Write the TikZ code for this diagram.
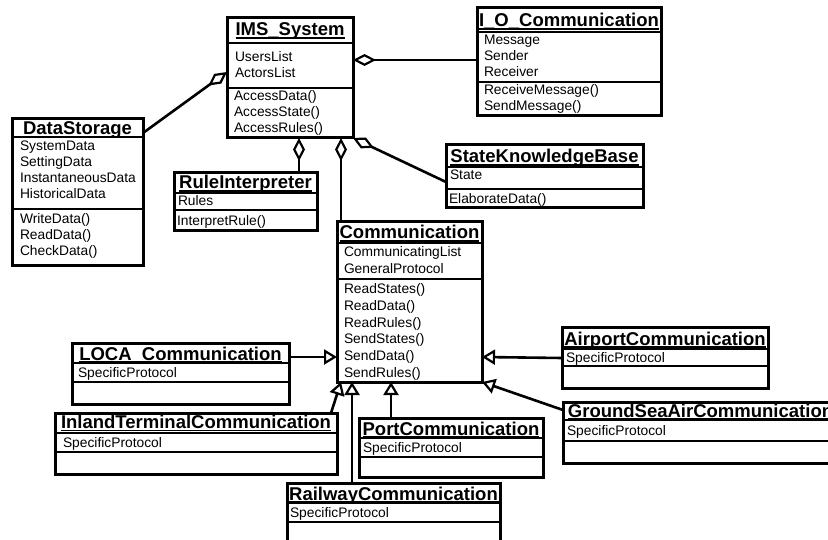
\documentclass[tikz,border=0pt]{standalone}
\usepackage{fontspec}
\setmainfont{Liberation Sans}
\usetikzlibrary{arrows.meta,calc}

\newcommand\clsTitleFont{\fontsize{18.5bp}{20bp}\selectfont\bfseries}
\newcommand\clsBodyFont{\fontsize{13.8bp}{16bp}\selectfont}

\tikzset{
  box/.style={rectangle, draw=black, line width=3bp, fill=white,
    inner sep=0pt, outer sep=0pt, anchor=north west},
  ttl/.style={font=\clsTitleFont, inner sep=0pt, outer sep=0pt, anchor=base},
  txt/.style={font=\clsBodyFont, inner sep=0pt, outer sep=0pt, anchor=base west},
  sepline/.style={line width=2.2bp},
  uline/.style={line width=1.3bp},
  conn/.style={line width=2.6bp},
  agg/.style={conn, {Diamond[fill=white, length=23bp, width=12bp, line width=2.2bp]}-},
  gen/.style={conn, -{Triangle[fill=white, length=13bp, width=15bp, line width=2.2bp]}},
}

% class frame: name, north-west corner, width, height, title baseline offset, title
\newcommand\mkclass[6]{%
  \node[box, minimum width=#3, minimum height=#4] (#1) at (#2) {};
  \node[ttl] (#1-t) at ($(#1.north)+(0,#5)$) {#6};
  \draw[uline] ($(#1-t.base west)+(0,2)$) -- ($(#1-t.base east)+(0,2)$);
}
% compartment separator at a given depth below the top edge
\newcommand\mksep[2]{%
  \draw[sepline] ($(#1.north west)+(0,#2)$) -- ($(#1.north east)+(0,#2)$);
}
% one line of compartment text: node name, class, x offset, baseline offset, text
\newcommand\mktext[5]{%
  \node[txt] (#1) at ($(#2.north west)+(#3,#4)$) {#5};
}

\begin{document}
\begin{tikzpicture}[x=1bp, y=-1bp]
\useasboundingbox (0,0) rectangle (828,540);
\clip (0,0) rectangle (828,540);
\fill[white] (0,0) rectangle (828,540);

% IMS_System
\mkclass{ims}{227,18}{126bp}{120bp}{18}{IMS\_System}
\mksep{ims}{25}
\mksep{ims}{70}
\mktext{ims-a1}{ims}{8}{44}{UsersList}
\mktext{ims-a2}{ims}{8}{60}{ActorsList}
\mktext{ims-m1}{ims}{7}{83}{AccessData()}
\mktext{ims-m2}{ims}{7}{99}{AccessState()}
\mktext{ims-m3}{ims}{7}{115}{AccessRules()}

% I_O_Communication
\mkclass{io}{477,8}{184bp}{108bp}{19}{I\_O\_Communication}
\mksep{io}{24}
\mksep{io}{74}
\mktext{io-a1}{io}{7}{37}{Message}
\mktext{io-a2}{io}{7}{53}{Sender}
\mktext{io-a3}{io}{7}{69}{Receiver}
\mktext{io-m1}{io}{7}{87}{ReceiveMessage()}
\mktext{io-m2}{io}{7}{103}{SendMessage()}

% DataStorage
\mkclass{ds}{12,119}{131bp}{146bp}{16}{DataStorage}
\mksep{ds}{18}
\mksep{ds}{90}
\mktext{ds-a1}{ds}{8}{32}{SystemData}
\mktext{ds-a2}{ds}{8}{48}{SettingData}
\mktext{ds-a3}{ds}{8}{64}{InstantaneousData}
\mktext{ds-a4}{ds}{8}{80}{HistoricalData}
\mktext{ds-m1}{ds}{8}{105}{WriteData()}
\mktext{ds-m2}{ds}{8}{121}{ReadData()}
\mktext{ds-m3}{ds}{8}{137}{CheckData()}

% RuleInterpreter
\mkclass{ri}{174,173}{143bp}{58bp}{16}{RuleInterpreter}
\mksep{ri}{20}
\mksep{ri}{37}
\mktext{ri-a1}{ri}{4}{33}{Rules}
\mktext{ri-m1}{ri}{3}{53}{InterpretRule()}

% StateKnowledgeBase
\mkclass{skb}{446,145}{197bp}{63bp}{18}{StateKnowledgeBase}
\mksep{skb}{22}
\mksep{skb}{44}
\mktext{skb-a1}{skb}{4}{35}{State}
\mktext{skb-m1}{skb}{3}{59}{ElaborateData()}

% Communication
\mkclass{com}{337,222}{145bp}{160bp}{17}{Communication}
\mksep{com}{21}
\mksep{com}{57}
\mktext{com-a1}{com}{7}{35}{CommunicatingList}
\mktext{com-a2}{com}{7}{52}{GeneralProtocol}
\mktext{com-m1}{com}{7}{72}{ReadStates()}
\mktext{com-m2}{com}{7}{88.6}{ReadData()}
\mktext{com-m3}{com}{7}{105.2}{ReadRules()}
\mktext{com-m4}{com}{7}{121.8}{SendStates()}
\mktext{com-m5}{com}{7}{138.4}{SendData()}
\mktext{com-m6}{com}{7}{155}{SendRules()}

% specialised communication classes
\mkclass{loca}{72,343}{217bp}{61bp}{17}{LOCA\_Communication}
\mksep{loca}{20}
\mksep{loca}{39}
\mktext{loca-a1}{loca}{6}{34}{SpecificProtocol}

\mkclass{itc}{55,413}{282bp}{61bp}{15.5}{InlandTerminalCommunication}
\mksep{itc}{20}
\mksep{itc}{39}
\mktext{itc-a1}{itc}{8}{34}{SpecificProtocol}

\mkclass{port}{359,418}{184bp}{59bp}{17}{PortCommunication}
\mksep{port}{20}
\mksep{port}{39}
\mktext{port-a1}{port}{4}{34}{SpecificProtocol}

\mkclass{rail}{287,483}{213bp}{70bp}{17}{RailwayCommunication}
\mksep{rail}{19.5}
\mksep{rail}{39}
\mktext{rail-a1}{rail}{3}{34}{SpecificProtocol}

\mkclass{air}{562,327}{206bp}{61bp}{18}{AirportCommunication}
\mksep{air}{22}
\mksep{air}{39}
\mktext{air-a1}{air}{4}{35}{SpecificProtocol}

\mkclass{gsa}{563,402}{275bp}{61bp}{15}{GroundSeaAirCommunication}
\mksep{gsa}{18}
\mksep{gsa}{39}
\mktext{gsa-a1}{gsa}{4}{33}{SpecificProtocol}

% aggregations owned by IMS_System
\draw[agg] ($(ims.north east)+(0,42)$) -- ($(io.north west)+(0,52)$);
\draw[agg] ($(ims.north west)+(0,54)$) -- ($(ds.north east)+(0,14)$);
\draw[agg] ($(ims.south west)+(72,0)$) -- ($(ri.north west)+(125,0)$);
\draw[agg] ($(ims.south west)+(114,0)$) -- ($(com.north west)+(4,0)$);
\draw[agg] (ims.south east) -- ($(skb.north west)+(0,37)$);

% generalisations towards Communication
\draw[gen] ($(loca.north east)+(0,14)$) -- ($(com.north west)+(0,135)$);
\draw[gen] ($(air.north west)+(0,31)$) -- ($(com.north east)+(0,135)$);
\draw[gen] ($(itc.north east)+(-6,0)$) -- ($(com.south west)+(4,0)$);
\draw[gen] ($(rail.north west)+(65,0)$) -- ($(com.south west)+(15,0)$);
\draw[gen] ($(port.north west)+(32,0)$) -- ($(com.south west)+(54,0)$);
\draw[gen] ($(gsa.north west)+(0,8)$) -- (com.south east);
\end{tikzpicture}
\end{document}
